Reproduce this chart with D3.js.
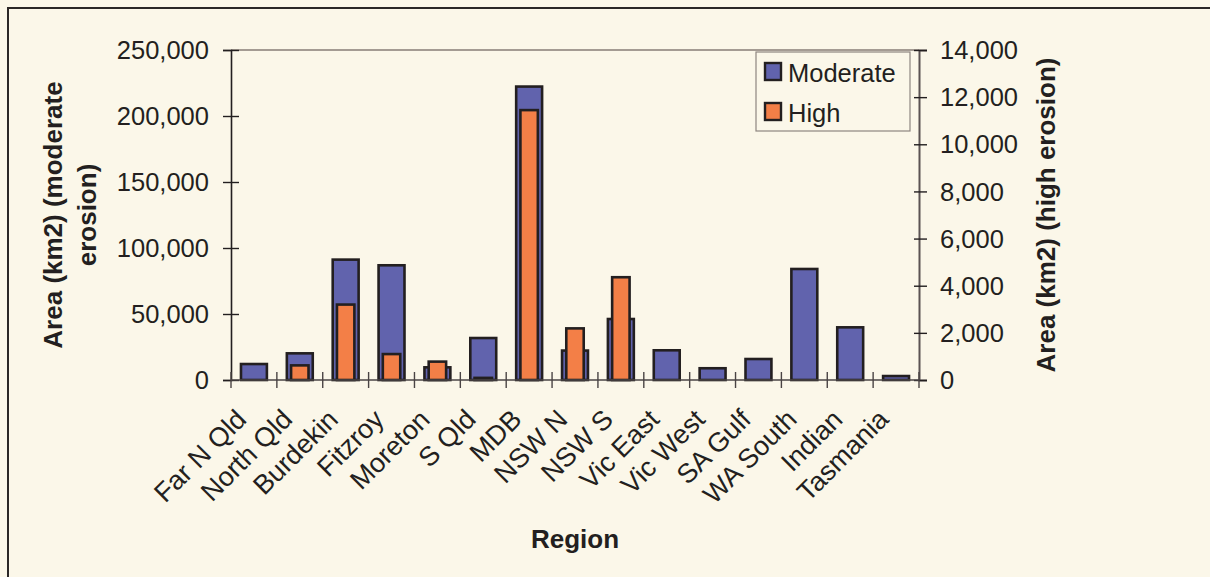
<!DOCTYPE html>
<html>
<head>
<meta charset="utf-8">
<script src="https://cdn.jsdelivr.net/npm/d3@7"></script>
<style>
  html, body { margin: 0; padding: 0; background: #fbf7e9; }
  svg { display: block; }
  text { font-family: "Liberation Sans", Arial, sans-serif; fill: #231f20; }
</style>
</head>
<body>
<svg id="chart" width="1210" height="577"></svg>
<script>
// Regions and eroded area per region (km2)
const regions = ["Far N Qld", "North Qld", "Burdekin", "Fitzroy", "Moreton", "S Qld", "MDB",
  "NSW N", "NSW S", "Vic East", "Vic West", "SA Gulf", "WA South", "Indian", "Tasmania"];
const moderateErosion = [12100, 20200, 91200, 86900, 9600, 31800, 222300, 22300, 46200,
  22500, 8900, 15900, 84100, 39900, 3000];
const highErosion = [0, 620, 3200, 1100, 780, 90, 11450, 2190, 4360, 0, 0, 0, 0, 0, 0];
const leftTicks = [0, 50000, 100000, 150000, 200000, 250000];
const rightTicks = [0, 2000, 4000, 6000, 8000, 10000, 12000, 14000];
const seriesNames = ["Moderate", "High"];

const colors = { Moderate: "#6163ad", High: "#f37f47" };
const ink = "#231f20";

const svg = d3.select("#chart");
const plot = { left: 231, right: 919, top: 50, bottom: 380 };

// outer frame
svg.append("rect")
  .attr("x", 8).attr("y", 8).attr("width", 1220).attr("height", 600)
  .attr("fill", "#fbf7e9").attr("stroke", "#2b2727").attr("stroke-width", 2);

const x = d3.scaleBand().domain(regions).range([plot.left, plot.right]).padding(0);
const yL = d3.scaleLinear().domain([0, 250000]).range([plot.bottom, plot.top]);
const yR = d3.scaleLinear().domain([0, 14000]).range([plot.bottom, plot.top]);

// plot area top border
svg.append("line")
  .attr("x1", plot.left).attr("x2", plot.right)
  .attr("y1", plot.top).attr("y2", plot.top)
  .attr("stroke", "#a49b93").attr("stroke-width", 2);

// bars: moderate on primary axis, high on secondary axis, overlapped
const bw = x.bandwidth();
const wMod = bw * 0.565, wHigh = bw * 0.38;

svg.append("g").selectAll("rect")
  .data(regions.map((r, i) => ({ r, v: moderateErosion[i] })))
  .join("rect")
  .attr("x", d => x(d.r) + bw / 2 - wMod / 2)
  .attr("width", wMod)
  .attr("y", d => yL(d.v))
  .attr("height", d => yL(0) - yL(d.v))
  .attr("fill", colors.Moderate)
  .attr("stroke", ink).attr("stroke-width", 2.6);

svg.append("g").selectAll("rect")
  .data(regions.map((r, i) => ({ r, v: highErosion[i] })).filter(d => d.v > 0))
  .join("rect")
  .attr("x", d => x(d.r) + bw / 2 - wHigh / 2)
  .attr("width", wHigh)
  .attr("y", d => yR(d.v))
  .attr("height", d => yR(0) - yR(d.v))
  .attr("fill", colors.High)
  .attr("stroke", ink).attr("stroke-width", 2.6);

// left axis
const gL = svg.append("g").attr("transform", `translate(${plot.left},0)`)
  .call(d3.axisLeft(yL).tickValues(leftTicks).tickFormat(d3.format(",")).tickSizeOuter(0).tickSize(8).tickPadding(13));
gL.select(".domain").attr("stroke", ink).attr("stroke-width", 1.6);
gL.selectAll(".tick line").attr("stroke", ink).attr("stroke-width", 1.4).attr("x2", 8).attr("x1", -8);
gL.selectAll(".tick text").attr("font-size", 25.5).attr("fill", ink).attr("dy", "0.34em").attr("x", -22);

// right axis
const gR = svg.append("g").attr("transform", `translate(${plot.right},0)`)
  .call(d3.axisRight(yR).tickValues(rightTicks).tickFormat(d3.format(",")).tickSizeOuter(0).tickSize(8));
gR.select(".domain").attr("stroke", "#5b5353").attr("stroke-width", 2);
gR.selectAll(".tick line").attr("stroke", ink).attr("stroke-width", 1.4).attr("x1", -5).attr("x2", 8);
gR.selectAll(".tick text").attr("font-size", 25.5).attr("fill", ink).attr("dy", "0.34em").attr("x", 21);

// category axis with ticks at band boundaries
const gX = svg.append("g").attr("transform", `translate(0,${plot.bottom})`);
gX.append("line").attr("x1", plot.left).attr("x2", plot.right)
  .attr("stroke", "#4a4444").attr("stroke-width", 1.6);
const boundaries = regions.map(r => x(r)).concat([plot.right]);
gX.selectAll("line.tk").data(boundaries).join("line").attr("class", "tk")
  .attr("x1", d => d).attr("x2", d => d).attr("y1", -8).attr("y2", 8)
  .attr("stroke", "#4a4444").attr("stroke-width", 1.4);

gX.selectAll("text").data(regions).join("text")
  .attr("transform", d => `translate(${x(d) + bw / 2 - 6},41) rotate(-45)`)
  .attr("text-anchor", "end")
  .attr("font-size", 27)
  .text(d => d);

// axis titles
svg.append("text")
  .attr("transform", `translate(62,215) rotate(-90)`)
  .attr("text-anchor", "middle").attr("font-weight", "bold").attr("font-size", 26)
  .text("Area (km2) (moderate");
svg.append("text")
  .attr("transform", `translate(96,215) rotate(-90)`)
  .attr("text-anchor", "middle").attr("font-weight", "bold").attr("font-size", 26)
  .text("erosion)");
svg.append("text")
  .attr("transform", `translate(1055,215) rotate(-90)`)
  .attr("text-anchor", "middle").attr("font-weight", "bold").attr("font-size", 26)
  .text("Area (km2) (high erosion)");
svg.append("text")
  .attr("x", (plot.left + plot.right) / 2).attr("y", 548)
  .attr("text-anchor", "middle").attr("font-weight", "bold").attr("font-size", 26)
  .text("Region");

// legend
const lg = svg.append("g");
lg.append("rect").attr("x", 756).attr("y", 52).attr("width", 154).attr("height", 79)
  .attr("fill", "#fbf7e9").attr("stroke", "#8e8580").attr("stroke-width", 1.2);
seriesNames.forEach((s, i) => {
  const yy = 63 + i * 40;
  lg.append("rect").attr("x", 765).attr("y", yy).attr("width", 16).attr("height", 17)
    .attr("fill", colors[s]).attr("stroke", ink).attr("stroke-width", 2.4);
  lg.append("text").attr("x", 788).attr("y", yy + 19).attr("font-size", 25.5).text(s);
});
</script>
</body>
</html>
